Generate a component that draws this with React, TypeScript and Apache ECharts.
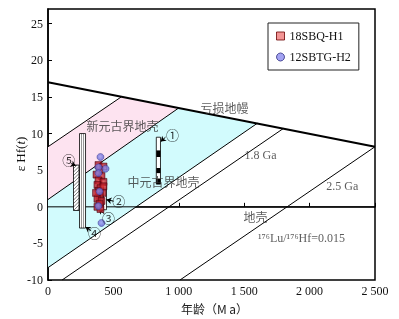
import React, { useEffect, useRef } from "react";
import * as echarts from "echarts";

// ---- axes ----
const xMin = 0;
const xMax = 2500;
const yMin = -10;
const yMax = 27;

// ---- model lines (age Ma, εHf) ----
const depletedMantle = [[0, 17.0], [2500, 8.2]];
const evolutionLines = [
  [[0, 8.2], [560, 15.0]],
  [[0, 1.0], [1000, 13.5]],
  [[0, -8.3], [1600, 11.4]],
  [[107, -10], [1800, 10.7]],
  [[1008, -10], [2500, 8.2]],
];
const churLine = [[0, 0], [2500, 0]];
const neoproterozoicZone = [[0, 8.2], [560, 15.0], [1000, 13.5], [0, 1.0]];
const mesoproterozoicZone = [[0, 1.0], [1000, 13.5], [1600, 11.4], [0, -8.3]];

// ---- samples ----
const sbqH1 = [
  [386, 5.7], [424, 5.5], [394, 5.0], [371, 4.4], [409, 4.2], [386, 3.6],
  [424, 3.4], [378, 3.0], [401, 2.55], [386, 2.15], [417, 1.9], [394, 1.5],
  [378, 1.1], [409, 0.8], [394, 0.4], [378, 0.0], [401, -0.3], [424, 2.8], [367, 1.9],
];
const sbtgH2 = [
  [401, 6.8], [386, 5.4], [440, 5.2], [386, 4.6], [394, 2.1], [386, 0.1], [409, -2.2],
];

// ---- literature ranges: [tMin, tMax, εMin, εMax] ----
const refRanges = [
  [828, 860, 3.1, 9.5],
  [424, 447, -0.4, 3.0],
  [241, 287, -2.9, 10.0],
  [195, 237, -0.5, 5.7],
];
const refStyles = ["blocks", "plain", "double", "hatch"];
const refBlackBlocks = [[6.8, 7.7], [4.6, 5.3], [3.1, 3.8]];
const refLabels = [
  { name: "①", value: [952, 9.9] },
  { name: "②", value: [540, 0.8] },
  { name: "③", value: [462, -1.45] },
  { name: "④", value: [355, -3.5] },
  { name: "⑤", value: [159, 6.5] },
];
const refArrows = [
  [[898, 9.5], [862, 8.9]],
  [[503, 0.77], [447, 0.98]],
  [[430, -0.94], [388, -0.3]],
  [[330, -3.26], [287, -2.75]],
  [[177, 5.9], [212, 5.6]],
];

// ---- text annotations ----
const zoneLabels = [
  { name: "新元古界地壳", value: [570, 10.9] },
  { name: "中元古界地壳", value: [883, 3.3] },
  { name: "亏损地幔", value: [1350, 13.3] },
  { name: "1.8 Ga", value: [1625, 7.1] },
  { name: "2.5 Ga", value: [2250, 2.8] },
  { name: "地壳", value: [1587, -1.5] },
  { name: "¹⁷⁶Lu/¹⁷⁶Hf=0.015", value: [1938, -4.2] },
];

const serif = '"Liberation Serif", "Times New Roman", serif';
const cjk = '"Noto Sans CJK SC", sans-serif';

export default function App() {
  const ref = useRef<HTMLDivElement>(null);
  useEffect(() => {
    if (!ref.current) return;
    const chart = echarts.init(ref.current, null, { renderer: "svg" });

    const polygonSeries = (pts: number[][], fill: string) => ({
      type: "custom",
      coordinateSystem: "cartesian2d",
      silent: true,
      z: 1,
      data: [[0, 0]],
      renderItem: (_p: any, api: any) => ({
        type: "polygon",
        shape: { points: pts.map((p) => api.coord(p)) },
        style: { fill, stroke: "none" },
      }),
    });

    const lineSeries = (data: number[][], width: number) => ({
      type: "line",
      data,
      showSymbol: false,
      silent: true,
      z: 3,
      lineStyle: { color: "#000", width },
    });

    const option: any = {
      animation: false,
      grid: { left: 48, right: 24, top: 9, bottom: 35, show: true, borderColor: "#000", borderWidth: 1.5 },
      legend: {
        orient: "vertical",
        left: 268,
        top: 23,
        padding: [7, 8, 7, 8],
        itemWidth: 8,
        itemHeight: 8,
        itemGap: 9,
        backgroundColor: "#fff",
        borderColor: "#222",
        borderWidth: 1,
        textStyle: { fontFamily: serif, fontSize: 12, color: "#111" },
        data: [
          { name: "18SBQ-H1", icon: "rect", itemStyle: { color: "#f07a7a", borderColor: "#6a0000", borderWidth: 1 } },
          { name: "12SBTG-H2", icon: "circle", itemStyle: { color: "#8c8cf0", borderColor: "#303080", borderWidth: 1 } },
        ],
      },
      xAxis: {
        type: "value",
        min: xMin,
        max: xMax,
        interval: 500,
        name: "年龄（M a）",
        nameLocation: "middle",
        nameGap: 16,
        nameTextStyle: { fontFamily: cjk, fontSize: 12, color: "#222", padding: [0, 0, 0, 6] },
        axisLine: { lineStyle: { color: "#000", width: 1.5 } },
        axisTick: { inside: true, length: 4, lineStyle: { color: "#000" } },
        axisLabel: {
          margin: 5,
          fontFamily: serif,
          fontSize: 12,
          color: "#111",
          formatter: (v: number) => (v >= 1000 ? `${Math.floor(v / 1000)} ${String(v % 1000).padStart(3, "0")}` : String(v)),
        },
        splitLine: { show: false },
      },
      yAxis: {
        type: "value",
        min: yMin,
        max: yMax,
        interval: 5,
        axisLine: { lineStyle: { color: "#000", width: 1.5 } },
        axisTick: { inside: true, length: 4, lineStyle: { color: "#000" } },
        axisLabel: { margin: 5, fontFamily: serif, fontSize: 12, color: "#111", showMaxLabel: false },
        splitLine: { show: false },
      },
      graphic: [
        {
          type: "text",
          x: 20,
          y: 154,
          rotation: Math.PI / 2,
          style: {
            text: "ε Hf({i|t})",
            fontFamily: serif,
            fontSize: 13,
            fill: "#111",
            align: "center",
            verticalAlign: "middle",
            rich: { i: { fontStyle: "italic", fontFamily: serif, fontSize: 13, fill: "#111" } },
          },
        },
      ],
      series: [
        polygonSeries(neoproterozoicZone, "#fde3f0"),
        polygonSeries(mesoproterozoicZone, "#d2fbfd"),
        lineSeries(churLine, 1),
        ...evolutionLines.map((l) => lineSeries(l, 1)),
        lineSeries(depletedMantle, 2.2),
        {
          type: "custom",
          coordinateSystem: "cartesian2d",
          silent: true,
          z: 4,
          encode: { x: [0, 1], y: [2, 3] },
          data: refRanges,
          renderItem: (params: any, api: any) => {
            const d = refRanges[params.dataIndex];
            const kind = refStyles[params.dataIndex];
            const [x0, yTop] = api.coord([d[0], d[3]]);
            const [x1, yBot] = api.coord([d[1], d[2]]);
            const w = x1 - x0;
            const h = yBot - yTop;
            const children: any[] = [
              { type: "rect", shape: { x: x0, y: yTop, width: w, height: h }, style: { fill: "#fff", stroke: "none" } },
            ];
            if (kind === "hatch") {
              for (let c = 0; c < h + w; c += 3.5) {
                const a = Math.max(0, c - h);
                const b = Math.min(w, c);
                if (a < b) {
                  children.push({
                    type: "line",
                    shape: { x1: x0 + a, y1: yTop + c - a, x2: x0 + b, y2: yTop + c - b },
                    style: { stroke: "#444", lineWidth: 0.7 },
                  });
                }
              }
            } else if (kind === "double") {
              [1 / 3, 2 / 3].forEach((f) =>
                children.push({
                  type: "line",
                  shape: { x1: x0 + w * f, y1: yTop, x2: x0 + w * f, y2: yBot },
                  style: { stroke: "#777", lineWidth: 0.8 },
                })
              );
            } else if (kind === "blocks") {
              refBlackBlocks.forEach((bk) => {
                const [, by0] = api.coord([d[0], bk[1]]);
                const [, by1] = api.coord([d[0], bk[0]]);
                children.push({ type: "rect", shape: { x: x0, y: by0, width: w, height: by1 - by0 }, style: { fill: "#000" } });
              });
            }
            children.push({
              type: "rect",
              shape: { x: x0, y: yTop, width: w, height: h },
              style: { fill: "none", stroke: "#000", lineWidth: 0.8 },
            });
            return { type: "group", children };
          },
        },
        {
          name: "18SBQ-H1",
          type: "scatter",
          z: 5,
          symbol: "rect",
          symbolSize: 7,
          data: sbqH1,
          itemStyle: {
            color: new echarts.graphic.RadialGradient(0.5, 0.5, 0.7, [
              { offset: 0, color: "#f03a3a" },
              { offset: 1, color: "#7a0018" },
            ]),
            borderColor: "#4a0008",
            borderWidth: 0.6,
          },
        },
        {
          name: "12SBTG-H2",
          type: "scatter",
          z: 6,
          symbol: "circle",
          symbolSize: 7,
          data: sbtgH2,
          itemStyle: {
            color: new echarts.graphic.RadialGradient(0.45, 0.45, 0.7, [
              { offset: 0, color: "#9a9af0" },
              { offset: 1, color: "#5050c8" },
            ]),
            borderColor: "#34348a",
            borderWidth: 0.6,
          },
        },
        {
          type: "scatter",
          z: 7,
          silent: true,
          symbolSize: 0,
          data: refLabels,
          label: {
            show: true,
            position: "inside",
            formatter: "{b}",
            fontFamily: cjk,
            fontSize: 13,
            color: "#000",
          },
          markLine: {
            silent: true,
            symbol: ["none", "arrow"],
            symbolSize: 5,
            label: { show: false },
            lineStyle: { color: "#000", width: 1, type: "solid" },
            data: refArrows.map((a) => [{ coord: a[0] }, { coord: a[1] }]),
          },
        },
        {
          type: "scatter",
          z: 7,
          silent: true,
          symbolSize: 0,
          data: zoneLabels,
          label: {
            show: true,
            position: "inside",
            formatter: "{b}",
            fontFamily: `"Liberation Serif", "Noto Sans CJK SC", serif`,
            fontSize: 12,
            color: "#333",
          },
        },
      ],
    };
    chart.setOption(option);
    return () => chart.dispose();
  }, []);
  return <div ref={ref} style={{ position: "fixed", left: 0, top: 0, width: 399, height: 319 }} />;
}
